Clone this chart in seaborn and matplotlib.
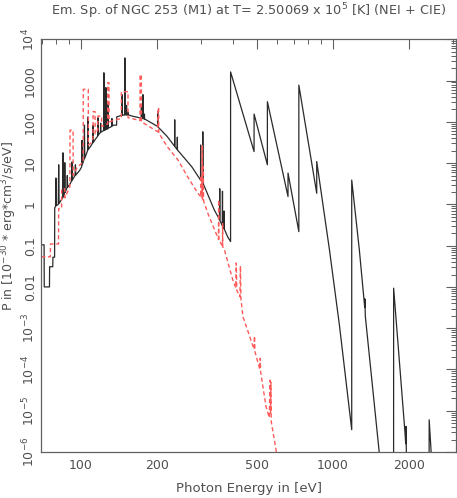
import numpy as np
import pandas as pd
import matplotlib
matplotlib.use('Agg')
import matplotlib.pyplot as plt
import matplotlib.ticker as mticker
import seaborn as sns

# NEI spectrum (black): photon energy [eV] and log10 of P
nei_energy = [69.7, 71.6, 71.7, 75.2, 75.3, 77.5, 77.6, 78.8, 78.9,
              79.5, 79.8, 80.1, 81.5, 81.8, 82.1, 84.8, 85.1, 85.4,
              86.2, 86.5, 86.8, 88.2, 88.5, 88.8, 90.0, 92.1, 92.4, 92.7,
              95.0, 95.3, 95.6, 99.0, 100.9, 101.2, 101.5, 103.2, 103.5, 103.8,
              106.6, 106.9, 107.2, 109.0, 111.6, 111.9, 112.2, 115.0,
              116.8, 117.1, 117.4, 119.7, 120.0, 120.3, 123.3, 123.6, 123.9,
              125.6, 125.9, 126.2, 128.0, 128.3, 128.6, 131.0, 132.7, 133.0, 133.3,
              135.0, 138.8, 139.0, 145.5, 145.8, 146.1, 149.4, 149.7, 150.0,
              151.7, 152.0, 152.3, 153.6, 153.9, 154.2, 160.0,
              173.8, 174.1, 174.4, 176.3, 176.6, 176.9, 178.7, 179.0, 179.3,
              201.8, 202.1, 202.4, 220.0, 235.7, 236.0, 236.3, 241.4, 241.7, 242.0,
              276.0, 298.7, 299.0, 299.3, 304.7, 305.0, 305.3, 339.0,
              355.7, 356.0, 356.3, 364.7, 365.0, 365.3, 370.0, 370.3, 370.6,
              383.0, 393.0, 393.1, 487.0, 487.1, 550.0, 550.1, 664.0, 664.1,
              733.0, 733.1, 863.0, 863.1, 970.0, 1062.0, 1188.0, 1188.1,
              1274.0, 1338.0, 1340.0, 1345.0, 1528.0, 1600.0, 1741.0, 1742.0,
              1930.0, 1945.0, 1950.0, 1960.0, 2100.0, 2405.0, 2410.0, 2460.0, 2600.0]
nei_logp = [-0.98, -0.98, -2.00, -2.00, -1.51, -1.51, -1.28, -1.28, -0.08,
            -0.05, 0.64, -0.03, 0.00, 0.96, 0.02, 0.16, 1.25, 0.18,
            0.25, 1.01, 0.29, 0.40, 0.70, 0.42, 0.46, 0.57, 1.03, 0.59,
            0.70, 0.96, 0.71, 0.82, 0.91, 1.55, 0.96, 1.10, 1.92, 1.12,
            1.31, 2.12, 1.33, 1.39, 1.49, 1.92, 1.50, 1.60,
            1.65, 2.10, 1.68, 1.74, 1.97, 1.75, 1.79, 3.19, 1.79,
            1.81, 2.83, 1.82, 1.83, 2.45, 1.85, 1.87, 1.89, 2.08, 1.90,
            1.92, 1.92, 2.12, 2.16, 2.66, 2.16, 2.17, 3.55, 2.17,
            2.17, 2.40, 2.17, 2.17, 2.24, 2.17, 2.14,
            2.09, 2.35, 2.09, 2.08, 2.66, 2.08, 2.07, 2.19, 2.07,
            1.89, 2.24, 1.88, 1.65, 1.41, 2.05, 1.40, 1.33, 1.63, 1.32,
            0.91, 0.59, 1.44, 0.59, 0.54, 1.76, 0.52, -0.14,
            -0.37, 0.38, -0.38, -0.52, 0.32, -0.53, -0.58, -0.16, -0.59,
            -0.79, -0.90, 3.21, 1.28, 2.19, 0.96, 2.49, 0.19, 0.76,
            -0.66, 2.89, 0.27, 1.04, -1.11, -2.93, -5.46, 0.59,
            -1.11, -2.50, -2.29, -2.71, -6.02, -7.08, -8.15, -2.03,
            -5.49, -5.80, -5.38, -6.34, -8.15, -8.15, -5.22, -6.12, -8.15]

# CIE spectrum (red dashed)
cie_energy = [69.7, 75.8, 75.9, 81.7, 81.8, 84.0, 84.1, 86.5, 86.6, 90.6, 90.7, 93.3, 93.4,
              97.0, 102.3, 102.4, 107.2, 107.3, 110.0, 111.9, 112.0, 114.0, 114.1,
              116.9, 117.0, 121.0, 121.1, 128.0, 128.1, 129.5, 129.6, 140.0,
              144.9, 145.0, 154.0, 154.1, 160.0, 171.9, 172.0, 174.0, 174.1, 180.0,
              202.0, 202.3, 203.8, 204.0, 221.0, 243.0, 266.0, 291.0,
              300.0, 300.5, 301.0, 303.0, 303.5, 304.0, 306.0, 306.5, 307.0, 319.0,
              349.0, 352.0, 352.5, 353.0, 365.0, 365.5, 366.0, 372.0, 401.0,
              412.0, 414.0, 416.0, 428.0, 430.0, 432.0, 440.0, 487.0, 489.0, 491.0,
              513.0, 515.0, 517.0, 543.0, 560.0, 563.0, 566.0, 568.0, 570.0, 595.0, 620.0]
cie_logp = [-1.27, -1.27, -0.96, -0.96, -0.10, -0.10, 0.38, 0.38, 0.16, 0.43, 1.80, 1.80, 0.70,
            0.91, 1.02, 2.79, 2.79, 1.44, 1.49, 1.60, 2.25, 2.25, 1.71,
            1.81, 2.14, 2.14, 1.89, 1.95, 2.95, 2.95, 2.00, 2.06,
            2.08, 2.73, 2.73, 2.10, 2.08, 2.03, 3.14, 3.14, 2.00, 1.95,
            1.76, 2.34, 2.34, 1.73, 1.39, 1.08, 0.66, 0.28,
            0.18, 0.70, 0.18, 0.16, 1.44, 0.14, 0.11, 0.91, 0.09, -0.21,
            -0.79, -0.85, 0.11, -0.86, -1.01, -0.45, -1.03, -1.11, -1.83,
            -2.02, -1.42, -2.08, -2.24, -1.49, -2.29, -2.72, -3.51, -3.19, -3.57,
            -3.99, -3.73, -4.05, -4.90, -5.17, -4.26, -5.06, -4.31, -5.27, -5.94, -6.87]

x_ticks = [100, 200, 500, 1000, 2000]
x_minor = [70, 80, 90, 300, 400, 600, 700, 800, 900, 3000]
y_ticks = [1e-6, 1e-5, 1e-4, 1e-3, 1e-2, 1e-1, 1, 10, 100, 1000, 1e4]
y_labels = ['$10^{-6}$', '$10^{-5}$', '$10^{-4}$', '$10^{-3}$', '0.01', '0.1',
            '1', '10', '100', '1000', '$10^{4}$']

nei = pd.DataFrame({'E': nei_energy, 'P': 10.0 ** np.array(nei_logp)})
cie = pd.DataFrame({'E': cie_energy, 'P': 10.0 ** np.array(cie_logp)})

sns.set_style('white')
plt.rcParams['font.family'] = ['DejaVu Sans']
txt = '#505050'

fig = plt.figure(figsize=(4.57, 4.98), dpi=100)
ax = fig.add_axes([0.0897, 0.0924, 0.909, 0.8286])

sns.lineplot(data=nei, x='E', y='P', sort=False, estimator=None,
             color='#2a2a2a', lw=0.9, ax=ax)
sns.lineplot(data=cie, x='E', y='P', sort=False, estimator=None,
             color='#ff5a5a', lw=1.0, ax=ax, linestyle=(0, (3, 2)))

ax.set_xscale('log')
ax.set_yscale('log')
ax.set_xlim(69.6, 3090)
ax.set_ylim(1e-6, 1e4)

ax.xaxis.set_major_locator(mticker.FixedLocator(x_ticks))
ax.xaxis.set_major_formatter(mticker.FixedFormatter([str(t) for t in x_ticks]))
ax.xaxis.set_minor_locator(mticker.FixedLocator(x_minor))
ax.xaxis.set_minor_formatter(mticker.NullFormatter())
ax.yaxis.set_major_locator(mticker.FixedLocator(y_ticks))
ax.yaxis.set_major_formatter(mticker.FixedFormatter(y_labels))
ax.yaxis.set_minor_locator(mticker.LogLocator(base=10, subs=np.arange(2, 10), numticks=20))
ax.yaxis.set_minor_formatter(mticker.NullFormatter())

ax.tick_params(which='both', direction='in', top=True, right=True,
               colors='#606060', labelcolor=txt, labelsize=9)
ax.tick_params(which='major', length=7, width=0.8)
ax.tick_params(which='minor', length=3.5, width=0.7)
ax.tick_params(axis='y', labelrotation=90, pad=3)
ax.tick_params(axis='x', pad=5)
for lab in ax.get_yticklabels():
    lab.set_va('center')
for s in ax.spines.values():
    s.set_color('#606060')
    s.set_linewidth(0.9)

ax.set_xlabel('Photon Energy in [eV]', color=txt, fontsize=9.5, labelpad=7)
ax.set_ylabel('P in [$10^{-30}$ * erg*cm$^3$/s/eV]', color=txt, fontsize=9)
ax.yaxis.set_label_coords(-0.053, 0.548)
fig.text(0.544, 1 - 11 / 498, 'Em. Sp. of NGC 253 (M1) at T= 2.50069 x 10$^5$ [K] (NEI + CIE)',
         color=txt, fontsize=9.3, ha='center', va='center')

fig.savefig('out.png', dpi=100)
